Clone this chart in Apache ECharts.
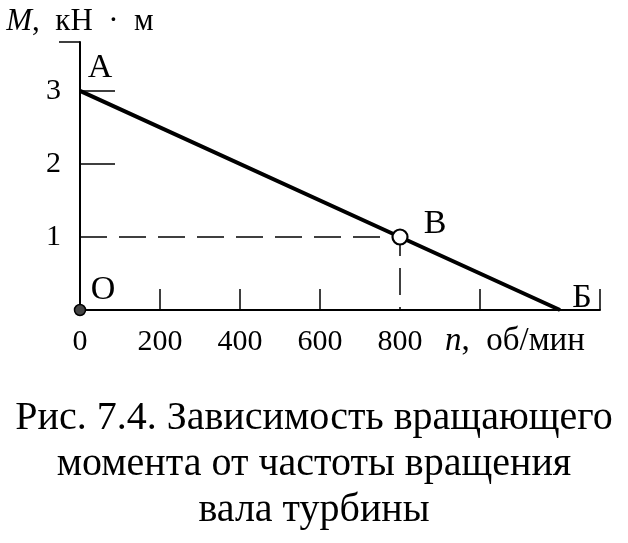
<!DOCTYPE html>
<html><head><meta charset="utf-8">
<script src="https://cdn.jsdelivr.net/npm/echarts@6/dist/echarts.min.js"></script>
<style>html,body{margin:0;padding:0;background:#fff}#c{width:628px;height:543px}</style>
</head><body><div id="c"></div>
<script>
// Data
const speed = [0, 800, 1200];          // n, об/мин
const torque = [3, 1, 0];              // M, кН·м
const pointNames = ['А', 'В', 'Б', 'О'];
const pointX = [0, 800, 1200, 0];
const pointY = [3, 1, 0, 0];
const xTickLabels = [0, 200, 400, 600, 800];
const xTicks = [200, 400, 600, 1000, 1300];
const yTickLabels = [1, 2, 3];
const yTicks = [2, 3];
const yEndTick = [3.67];
const xMax = 1300, yMax = 3.67;
const yAxisName = 'M,  кН  ·  м';
const xAxisName = 'n,  об/мин';
const caption = ['Рис. 7.4. Зависимость вращающего', 'момента от частоты вращения', 'вала турбины'];

const FONT = '"Liberation Serif", "DejaVu Serif", serif';
const chart = echarts.init(document.getElementById('c'), null, {renderer: 'canvas'});

const labelOffsets = [[20, -23], [35, -13], [22, -12], [23, -20]];
const captionTops = [393, 439, 485];

chart.setOption({
  animation: false,
  backgroundColor: '#fff',
  title: caption.map((t, i) => ({
    text: t,
    left: 'center', top: captionTops[i],
    textStyle: {fontFamily: FONT, fontSize: 40, fontWeight: 'normal', color: '#000'}
  })),
  grid: {left: 80, right: 28, top: 42, bottom: 233},
  xAxis: {
    type: 'value', min: 0, max: xMax,
    splitLine: {show: false},
    axisLine: {lineStyle: {color: '#000', width: 2}},
    axisTick: {show: true, inside: true, length: 21, customValues: xTicks, lineStyle: {color: '#000', width: 1.5}},
    axisLabel: {customValues: xTickLabels, color: '#000', fontFamily: FONT, fontSize: 30, margin: 17, showMaxLabel: true},
    name: xAxisName.replace(/^n/, '{i|n}'),
    nameLocation: 'end', nameGap: -155,
    nameTextStyle: {
      color: '#000', fontFamily: FONT, fontSize: 33, align: 'left', verticalAlign: 'top', padding: [15, 0, 0, 0],
      rich: {i: {fontStyle: 'italic', fontFamily: FONT, fontSize: 33, color: '#000'}}
    }
  },
  yAxis: [{
    type: 'value', min: 0, max: yMax,
    splitLine: {show: false},
    axisLine: {lineStyle: {color: '#000', width: 2}},
    axisTick: {show: true, inside: true, length: 35, customValues: yTicks, lineStyle: {color: '#000', width: 1.5}},
    axisLabel: {customValues: yTickLabels, color: '#000', fontFamily: FONT, fontSize: 30, margin: 19},
    name: yAxisName.replace(/^M/, '{i|M}'),
    nameLocation: 'end', nameGap: 5,
    nameTextStyle: {
      color: '#000', fontFamily: FONT, fontSize: 31, align: 'center',
      rich: {i: {fontStyle: 'italic', fontFamily: FONT, fontSize: 31, color: '#000'}}
    }
  }, {
    type: 'value', min: 0, max: yMax, position: 'left',
    splitLine: {show: false},
    axisLine: {show: false},
    axisTick: {show: true, inside: false, length: 21, customValues: yEndTick, lineStyle: {color: '#000', width: 1.5}},
    axisLabel: {show: false}
  }],
  series: [{
    type: 'line', z: 3,
    data: speed.map((s, i) => [s, torque[i]]),
    symbol: 'none',
    lineStyle: {color: '#000', width: 4}
  }, {
    type: 'line', z: 2,
    data: [[0, pointY[1]], [pointX[1], pointY[1]], [pointX[1], 0]],
    symbol: 'none',
    lineStyle: {color: '#000', width: 1.5, type: [27, 12]}
  }, {
    type: 'scatter', z: 5,
    data: [[pointX[1], pointY[1]]],
    symbol: 'circle', symbolSize: 15,
    itemStyle: {color: '#fff', borderColor: '#000', borderWidth: 2.2, opacity: 1}
  }, {
    type: 'scatter', z: 5,
    data: [[pointX[3], pointY[3]]],
    symbol: 'circle', symbolSize: 11,
    itemStyle: {color: '#444', borderColor: '#000', borderWidth: 1.5, opacity: 1}
  }, {
    type: 'scatter', z: 6,
    symbolSize: 1,
    silent: true,
    data: pointNames.map((n, i) => ({
      value: [pointX[i], pointY[i]], name: n,
      label: {show: true, position: 'inside', offset: labelOffsets[i], formatter: n,
        color: '#000', fontFamily: FONT, fontSize: 34, textBorderWidth: 0, textBorderColor: 'transparent', opacity: 1}
    })),
    itemStyle: {color: '#000', opacity: 0}
  }]
});
</script></body></html>
